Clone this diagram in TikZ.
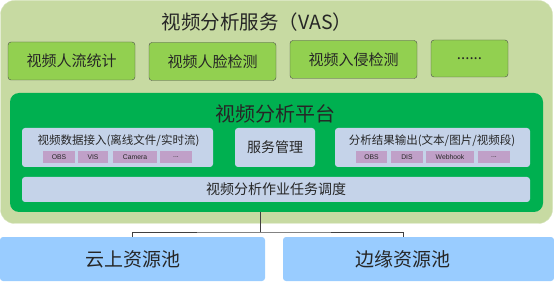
\documentclass[tikz,border=0pt]{standalone}
\usepackage{fontspec}
\setmainfont{Noto Sans CJK SC}
\newfontfamily\tagfont{Liberation Sans}
\definecolor{vasgreen}{RGB}{199,218,162}
\definecolor{appgreen}{RGB}{146,208,80}
\definecolor{platgreen}{RGB}{0,176,80}
\definecolor{modblue}{RGB}{197,211,233}
\definecolor{tagpurple}{RGB}{192,160,200}
\definecolor{poolblue}{RGB}{153,204,255}
\definecolor{ink}{RGB}{38,38,38}

\begin{document}
\begin{tikzpicture}[x=1pt,y=-1pt,text=ink,
  app/.style={draw=gray!60!black,fill=appgreen,rounded corners=3pt,minimum width=127pt,minimum height=38pt,font=\fontsize{15}{17}\selectfont},
  module/.style={fill=modblue,rounded corners=3pt,minimum height=39pt},
  tag/.style={fill=tagpurple,minimum height=12pt,inner sep=0pt,font=\tagfont\fontsize{6.8}{7}\selectfont},
  pool/.style={fill=poolblue,rounded corners=3pt,minimum height=44pt,inner xsep=0pt,font=\fontsize{19}{21}\selectfont},
  link/.style={draw=black!75,line width=0.8pt}]
  \useasboundingbox (0,0) rectangle (554,283);
  % service layer
  \node[fill=vasgreen,draw=vasgreen!70!white,rounded corners=14pt,minimum width=552pt,minimum height=223pt] (vas) at (276.5,112) {};
  \node[font=\fontsize{19.5}{21}\selectfont] (vastitle) at (257,22) {视频分析服务（VAS）};
  \node[app] (count) at (71.5,61) {视频人流统计};
  \node[app] (face) at (212.5,61.5) {视频人脸检测};
  \node[app] (intrude) at (353.5,59.5) {视频入侵检测};
  \node[app,minimum width=77pt,minimum height=37pt] (more) at (469.5,58.5) {......};
  % platform
  \node[fill=platgreen,rounded corners=9pt,minimum width=533pt,minimum height=119pt] (plat) at (276.5,152.5) {};
  \node[font=\fontsize{20}{22}\selectfont] (plattitle) at (275,114) {视频分析平台};
  % input
  \node[module,minimum width=191pt] (input) at (117.5,147.5) {};
  \node[font=\fontsize{11.5}{13}\selectfont] (inputtitle) at (118.5,141) {视频数据接入(离线文件/实时流)};
  \node[tag,minimum width=32pt] (inobs) at (59,157) {OBS};
  \node[tag,minimum width=30pt] (invis) at (93,157) {VIS};
  \node[tag,minimum width=44pt] (incam) at (135,157) {Camera};
  \node[tag,minimum width=32pt] (inmore) at (176,157) {...};
  % management
  \node[module,minimum width=80pt,font=\fontsize{14}{16}\selectfont] (mgmt) at (275,147.5) {服务管理};
  % output
  \node[module,minimum width=195pt] (output) at (432.5,147.5) {};
  \node[font=\fontsize{11.5}{13}\selectfont] (outputtitle) at (432,141) {分析结果输出(文本/图片/视频段)};
  \node[tag,minimum width=31pt] (outobs) at (371.5,157) {OBS};
  \node[tag,minimum width=32pt] (outdis) at (407,157) {DIS};
  \node[tag,minimum width=48pt] (outhook) at (450,157) {Webhook};
  \node[tag,minimum width=32pt] (outmore) at (494,157) {...};
  % scheduling bar
  \node[module,minimum width=508pt,minimum height=25pt,font=\fontsize{14}{16}\selectfont] (sched) at (276,189.5) {视频分析作业任务调度};
  % resource pools
  \node[pool,minimum width=265pt] (cloud) at (132.5,259) {云上资源池};
  \node[pool,minimum width=271pt] (edge) at (418.5,259) {\makebox[240pt]{边缘资源池}\hspace*{31pt}};
  \coordinate (hub) at (260,232);
  \coordinate (edgetop) at ([xshift=-15.5pt]edge.north);
  \draw[link] (hub |- plat.south) -- (hub);
  \draw[link] (cloud.north) |- (hub) -| (edgetop);
\end{tikzpicture}
\end{document}
